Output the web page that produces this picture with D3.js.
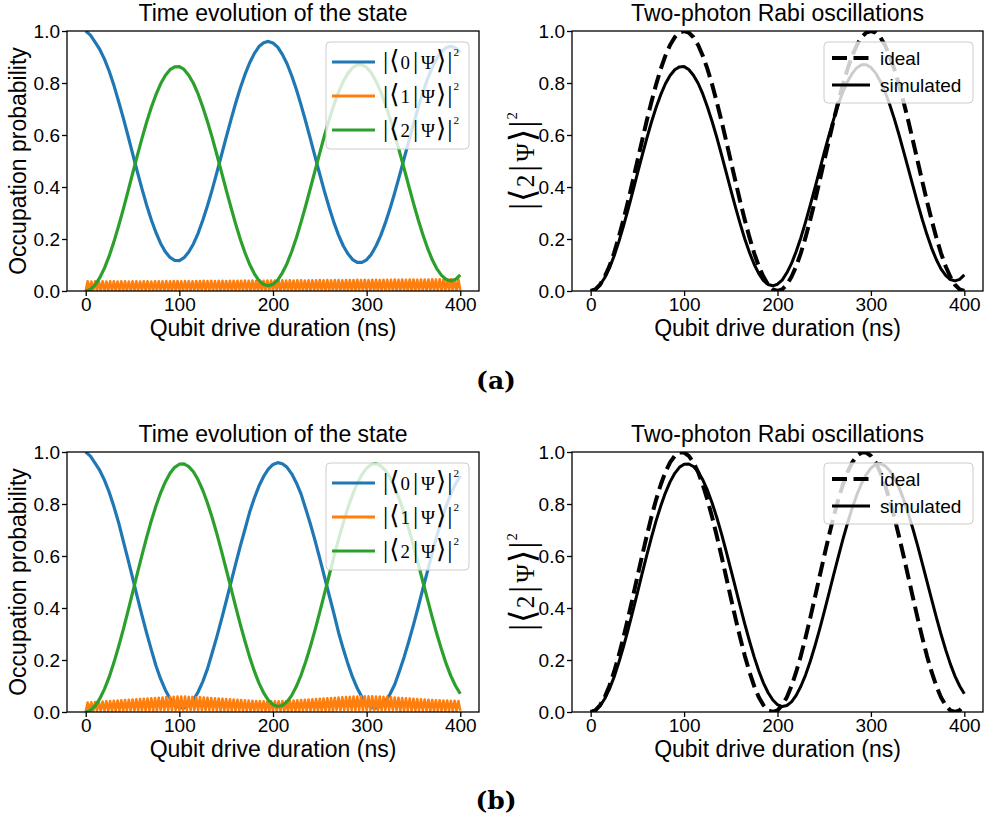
<!DOCTYPE html>
<html><head><meta charset="utf-8">
<script src="https://cdn.jsdelivr.net/npm/d3@7"></script>
<style>body{margin:0;background:#fff}</style>
</head><body>
<svg id="fig" width="985" height="820" xmlns="http://www.w3.org/2000/svg"></svg>
<script>
// ---------------- DATA ----------------
const smoothTimes = d3.range(0, 401, 5);   // ns, sampling of smooth series
const fastTimes = d3.range(0, 401, 2);     // ns, sampling of |<1|psi>|^2
const xTicks = [0, 100, 200, 300, 400];
const yTicks = [0, 0.2, 0.4, 0.6, 0.8, 1.0];
const stateLabels = ["0", "1", "2"];
const rabiLabels = ["ideal", "simulated"];
const leftTitle = "Time evolution of the state";
const rightTitle = "Two-photon Rabi oscillations";
const xLabel = "Qubit drive duration (ns)";
const yLabelLeft = "Occupation probability";
const panelTags = ["(a)", "(b)"];

// (a)
const blueA = [1.0,.984,.957,.929,.892,.846,.792,.731,.667,.599,
.529,.460,.394,.331,.274,.225,.183,.151,.129,.118,
.117,.128,.150,.181,.222,.272,.328,.389,.455,.523,
.591,.657,.721,.780,.832,.877,.913,.940,.955,.960,
.954,.938,.910,.874,.828,.775,.715,.651,.584,.516,
.448,.382,.321,.264,.215,.174,.143,.121,.110,.110,
.120,.141,.173,.213,.262,.317,.378,.443,.509,.576,
.642,.705,.763,.815,.859,.895,.920,.936,.941,.935,
.918];
const greenA = [0,.006,.023,.051,.088,.134,.188,.249,.313,.381,
.451,.520,.586,.649,.706,.755,.797,.829,.851,.862,
.863,.852,.830,.799,.758,.708,.652,.591,.525,.457,
.389,.323,.259,.200,.148,.103,.067,.040,.025,.020,
.026,.042,.070,.106,.152,.205,.265,.329,.396,.464,
.532,.598,.659,.716,.765,.806,.837,.859,.870,.870,
.860,.839,.807,.767,.718,.663,.602,.537,.471,.404,
.338,.275,.217,.165,.121,.085,.060,.044,.039,.045,
.062];
const orangeA = [0,.037,.002,.036,.002,.037,.002,.036,.002,.037,.002,.036,.002,.037,.002,.037,.002,.036,.002,.037,
.002,.037,.002,.036,.002,.037,.002,.037,.002,.036,.002,.037,.002,.037,.002,.036,.002,.037,.002,.037,
.002,.037,.002,.038,.002,.037,.002,.038,.002,.038,.002,.037,.002,.038,.002,.038,.002,.037,.002,.038,
.002,.038,.002,.039,.002,.038,.002,.039,.002,.038,.002,.039,.002,.039,.002,.038,.002,.039,.002,.039,
.002,.039,.002,.039,.002,.040,.002,.039,.002,.040,.002,.039,.002,.040,.002,.039,.002,.040,.002,.040,
.002,.040,.002,.040,.002,.041,.002,.040,.002,.041,.002,.040,.002,.041,.002,.041,.002,.040,.002,.041,
.002,.041,.002,.041,.002,.042,.002,.041,.002,.042,.002,.041,.002,.042,.002,.042,.002,.041,.002,.042,
.002,.042,.002,.042,.002,.043,.002,.042,.002,.043,.002,.042,.002,.043,.002,.043,.002,.042,.002,.043,
.002,.043,.002,.043,.002,.044,.002,.043,.002,.044,.002,.043,.002,.044,.002,.044,.002,.043,.002,.044,
.002,.044,.002,.044,.002,.045,.002,.044,.002,.045,.002,.044,.002,.045,.002,.045,.002,.044,.002,.045,
.002];
const idealA = [0,.006,.024,.055,.095,.146,.206,.273,.345,.422,
.5,.578,.655,.727,.794,.854,.905,.946,.976,.994,
1,.994,.976,.946,.905,.854,.794,.727,.655,.578,
.5,.422,.345,.273,.206,.146,.095,.055,.024,.006,
0,.006,.024,.055,.095,.146,.206,.273,.345,.422,
.5,.578,.655,.727,.794,.854,.905,.946,.976,.994,
1,.994,.976,.946,.905,.854,.794,.727,.655,.578,
.5,.422,.345,.273,.206,.146,.095,.055,.024,.006,
0];

// (b)
const blueB = [1.0,.984,.957,.929,.892,.846,.791,.730,.659,.589,
.517,.444,.373,.304,.240,.178,.127,.085,.052,.029,
.017,.016,.026,.046,.077,.117,.166,.227,.289,.356,
.426,.497,.568,.637,.702,.768,.822,.869,.906,.934,
.952,.959,.955,.941,.916,.881,.838,.781,.722,.658,
.590,.520,.449,.379,.306,.243,.185,.134,.091,.057,
.032,.018,.015,.023,.041,.069,.106,.157,.211,.271,
.335,.403,.473,.542,.610,.678,.738,.793,.840,.878,
.908];
const greenB = [0,.006,.023,.051,.088,.134,.189,.250,.316,.386,
.458,.531,.602,.671,.735,.792,.843,.885,.918,.941,
.953,.954,.944,.924,.893,.853,.804,.748,.686,.619,
.549,.478,.407,.338,.273,.212,.158,.111,.074,.046,
.028,.021,.025,.039,.064,.099,.142,.194,.253,.317,
.385,.455,.526,.596,.664,.727,.785,.836,.879,.913,
.938,.952,.955,.947,.929,.901,.864,.818,.764,.704,
.640,.572,.502,.433,.365,.300,.240,.185,.138,.100,
.070];
const orangeB = [0,.036,.005,.037,.005,.038,.005,.039,.005,.040,.005,.041,.005,.042,.005,.043,.005,.044,.005,.045,
.006,.046,.006,.047,.006,.048,.006,.049,.006,.050,.006,.051,.006,.052,.006,.053,.006,.054,.006,.055,
.007,.056,.007,.057,.007,.058,.007,.058,.007,.059,.007,.059,.007,.059,.007,.058,.007,.058,.007,.057,
.007,.057,.007,.056,.007,.055,.007,.054,.007,.053,.006,.052,.006,.051,.006,.050,.006,.049,.006,.048,
.006,.047,.006,.046,.005,.045,.005,.044,.005,.043,.005,.042,.005,.042,.005,.041,.005,.041,.005,.041,
.005,.041,.005,.041,.005,.042,.005,.042,.005,.043,.005,.044,.005,.045,.005,.046,.006,.047,.006,.048,
.006,.049,.006,.050,.006,.051,.006,.052,.006,.053,.006,.054,.006,.055,.007,.056,.007,.057,.007,.058,
.007,.058,.007,.059,.007,.059,.007,.060,.007,.060,.007,.060,.007,.060,.007,.059,.007,.059,.007,.058,
.007,.058,.007,.057,.007,.056,.007,.055,.006,.054,.006,.053,.006,.052,.006,.051,.006,.050,.006,.049,
.006,.048,.006,.047,.005,.046,.005,.045,.005,.045,.005,.044,.005,.044,.005,.043,.005,.043,.005,.042,
.005];
const idealB = [0,.006,.026,.057,.100,.154,.216,.286,.361,.440,
.520,.600,.677,.750,.816,.874,.923,.960,.985,.998,
.998,.985,.960,.923,.874,.816,.750,.677,.600,.520,
.440,.361,.286,.216,.154,.100,.057,.026,.006,0,
.006,.026,.057,.100,.154,.216,.286,.361,.440,.520,
.600,.677,.750,.816,.874,.923,.960,.985,.998,.998,
.985,.960,.923,.874,.816,.750,.677,.600,.520,.440,
.361,.286,.216,.154,.100,.057,.026,.006,0,.006,
.026];

const colors = ["#1f77b4", "#ff7f0e", "#2ca02c"];

// ---------------- DRAWING ----------------
const svg = d3.select("#fig");
const SANS = "'Liberation Sans', Arial, Helvetica, sans-serif";
const MATH = "'Liberation Serif', 'DejaVu Serif', 'DejaVu Sans', serif";
const TICK_FS = 19, LABEL_FS = 23;

function makePanel(px, py, pw, ph) {
  const g = svg.append("g").attr("transform", `translate(${px},${py})`);
  const x = d3.scaleLinear().domain([-20, 420]).range([0, pw]);
  const y = d3.scaleLinear().domain([0, 1]).range([ph, 0]);
  const id = `clip_${px}_${py}`;
  g.append("clipPath").attr("id", id).append("rect").attr("width", pw).attr("height", ph);
  const plot = g.append("g").attr("clip-path", `url(#${id})`);
  return {g, x, y, plot, pw, ph};
}

function drawAxes(p) {
  const xa = p.g.append("g").attr("transform", `translate(0,${p.ph})`)
    .call(d3.axisBottom(p.x).tickValues(xTicks).tickSize(5).tickSizeOuter(0).tickPadding(2).tickFormat(d3.format("d")));
  const ya = p.g.append("g")
    .call(d3.axisLeft(p.y).tickValues(yTicks).tickSize(5).tickSizeOuter(0).tickPadding(2).tickFormat(d3.format(".1f")));
  [xa, ya].forEach(a => {
    a.select(".domain").remove();
    a.selectAll(".tick line").attr("stroke", "#000").attr("stroke-width", 1.3);
    a.selectAll(".tick text").attr("font-family", SANS).attr("font-size", TICK_FS).attr("fill", "#000");
  });
  p.g.append("rect").attr("width", p.pw).attr("height", p.ph)
    .attr("fill", "none").attr("stroke", "#000").attr("stroke-width", 1.3);
}

function addLine(p, times, vals, color, width, dash) {
  const line = d3.line().x((d, i) => p.x(times[i])).y(d => p.y(d));
  const path = p.plot.append("path").datum(vals).attr("d", line)
    .attr("fill", "none").attr("stroke", color).attr("stroke-width", width)
    .attr("stroke-linejoin", "round");
  if (dash) path.attr("stroke-dasharray", dash);
}

// ket label |<n|Psi>|^2
function ket(textSel, n, s) {
  const big = s * 1.45, sup = s * 0.62;
  textSel.attr("font-family", MATH).attr("fill", "#000");
  const parts = [["|", big, 0], ["\u27E8", big, 1], [n, s * 1.05, 1], ["|", big, 3], ["\u03A8", s * 1.05, 3], ["\u27E9", big, 1], ["|", big, 1]];
  parts.forEach(([t, f, dx]) => textSel.append("tspan").attr("font-size", f).attr("dx", dx).text(t));
  textSel.append("tspan").attr("font-size", sup).attr("dx", 1).attr("dy", -s * 0.72).text("2");
}

function labels(p, title) {
  p.g.append("text").attr("x", p.pw / 2).attr("y", -10).attr("text-anchor", "middle")
    .attr("font-family", SANS).attr("font-size", LABEL_FS).text(title);
  p.g.append("text").attr("x", p.pw / 2).attr("y", p.ph + 45).attr("text-anchor", "middle")
    .attr("font-family", SANS).attr("font-size", LABEL_FS).text(xLabel);
}

function leftPanel(px, py, blue, orange, green) {
  const p = makePanel(px, py, 412, 260);
  addLine(p, smoothTimes, blue, colors[0], 3.2);
  addLine(p, fastTimes, orange, colors[1], 2.6);
  addLine(p, smoothTimes, green, colors[2], 3.2);
  drawAxes(p);
  labels(p, leftTitle);
  p.g.append("text").attr("transform", `translate(${26 - px},${p.ph / 2}) rotate(-90)`).attr("text-anchor", "middle")
    .attr("font-family", SANS).attr("font-size", LABEL_FS).text(yLabelLeft);
  // legend
  const lg = p.g.append("g").attr("transform", `translate(${p.pw - 10 - 143},11)`);
  lg.append("rect").attr("width", 143).attr("height", 107).attr("rx", 4)
    .attr("fill", "#fff").attr("fill-opacity", 0.8).attr("stroke", "#cccccc").attr("stroke-width", 1);
  stateLabels.forEach((s, i) => {
    const yy = 20 + i * 34;
    lg.append("line").attr("x1", 6).attr("x2", 49).attr("y1", yy).attr("y2", yy)
      .attr("stroke", colors[i]).attr("stroke-width", 3);
    ket(lg.append("text").attr("x", 57).attr("y", yy + 7), s, 18);
  });
}

function rightPanel(px, py, ideal, sim) {
  const p = makePanel(px, py, 411, 260);
  addLine(p, smoothTimes, ideal, "#000", 4, "15 6.5");
  addLine(p, smoothTimes, sim, "#000", 3);
  drawAxes(p);
  labels(p, rightTitle);
  ket(p.g.append("text").attr("transform", `translate(${534 - px},${p.ph / 2}) rotate(-90)`)
      .attr("text-anchor", "middle"), "2", 24);
  const lg = p.g.append("g").attr("transform", `translate(${p.pw - 10 - 149},11)`);
  lg.append("rect").attr("width", 149).attr("height", 61).attr("rx", 4)
    .attr("fill", "#fff").attr("fill-opacity", 0.8).attr("stroke", "#cccccc").attr("stroke-width", 1);
  rabiLabels.forEach((s, i) => {
    const yy = 16 + i * 27;
    const l = lg.append("line").attr("x1", 8).attr("x2", 46).attr("y1", yy).attr("y2", yy)
      .attr("stroke", "#000").attr("stroke-width", i === 0 ? 4 : 3);
    if (i === 0) l.attr("stroke-dasharray", "15 6.5");
    lg.append("text").attr("x", 56).attr("y", yy + 6.5).attr("font-family", SANS)
      .attr("font-size", TICK_FS).text(s);
  });
}

leftPanel(67, 31, blueA, orangeA, greenA);
rightPanel(572, 31, idealA, greenA);
leftPanel(67, 452, blueB, orangeB, greenB);
rightPanel(572, 452, idealB, greenB);

svg.append("text").attr("x", 496).attr("y", 389).attr("text-anchor", "middle")
  .attr("font-family", "'DejaVu Serif', serif").attr("font-weight", "bold").attr("font-size", 25).text(panelTags[0]);
svg.append("text").attr("x", 496).attr("y", 809).attr("text-anchor", "middle")
  .attr("font-family", "'DejaVu Serif', serif").attr("font-weight", "bold").attr("font-size", 25).text(panelTags[1]);
</script>
</body></html>
